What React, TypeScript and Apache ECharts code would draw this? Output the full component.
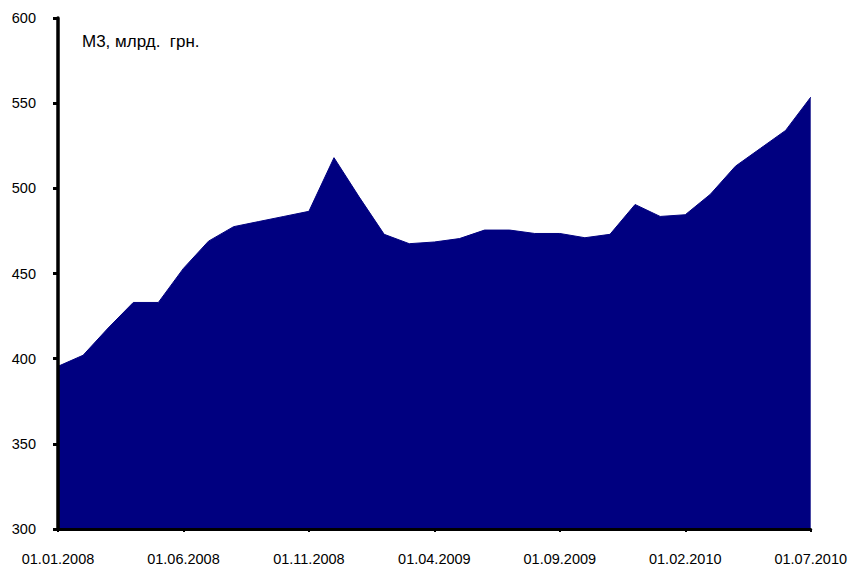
import React, { useEffect, useRef } from "react";
import * as echarts from "echarts";

const categories: string[] = [
  "01.01.2008", "01.02.2008", "01.03.2008", "01.04.2008", "01.05.2008", "01.06.2008",
  "01.07.2008", "01.08.2008", "01.09.2008", "01.10.2008", "01.11.2008", "01.12.2008",
  "01.01.2009", "01.02.2009", "01.03.2009", "01.04.2009", "01.05.2009", "01.06.2009",
  "01.07.2009", "01.08.2009", "01.09.2009", "01.10.2009", "01.11.2009", "01.12.2009",
  "01.01.2010", "01.02.2010", "01.03.2010", "01.04.2010", "01.05.2010", "01.06.2010",
  "01.07.2010",
];

const m3Values: number[] = [
  395.5, 402, 418, 433, 433, 453, 469, 477.5, 480.5, 483.5, 486.5, 518,
  495, 473, 467.5, 468.5, 470.5, 475.5, 475.5, 473.5, 473.5, 471, 473, 490.5,
  483.5, 484.5, 496.5, 513, 523.5, 534, 553.5,
];

const yMin = 300;
const yMax = 600;
const yStep = 50;
const titleText = "М3, млрд.  грн.";

const FONT = "'Liberation Sans', Arial, sans-serif";

export default function App() {
  const ref = useRef<HTMLDivElement>(null);
  useEffect(() => {
    if (!ref.current) return;
    const chart = echarts.init(ref.current, undefined, { renderer: "svg" });
    chart.setOption({
      animation: false,
      backgroundColor: "#ffffff",
      grid: { left: 58, right: 37, top: 18, bottom: 40, containLabel: false },
      graphic: [
        {
          type: "text",
          left: 82,
          top: 33,
          style: { text: titleText, font: `17px ${FONT}`, fill: "#000000" },
        },
      ],
      xAxis: {
        type: "category",
        data: categories,
        boundaryGap: false,
        z: 10,
        axisLine: { show: true, onZero: false, lineStyle: { color: "#000000", width: 3 } },
        axisTick: { show: true, interval: 4, length: 3, lineStyle: { color: "#000000", width: 2 } },
        axisLabel: {
          interval: 4,
          margin: 22,
          color: "#000000",
          fontSize: 14.5,
          fontFamily: FONT,
          showMaxLabel: true,
        },
        splitLine: { show: false },
      },
      yAxis: {
        type: "value",
        min: yMin,
        max: yMax,
        interval: yStep,
        z: 10,
        axisLine: { show: true, lineStyle: { color: "#000000", width: 3.5 } },
        axisTick: { show: true, length: 5, lineStyle: { color: "#000000", width: 3 } },
        axisLabel: {
          margin: 22,
          color: "#000000",
          fontSize: 14.5,
          fontFamily: FONT,
        },
        splitLine: { show: false },
      },
      series: [
        {
          type: "line",
          data: m3Values,
          symbol: "none",
          z: 2,
          lineStyle: { color: "#000080", width: 1 },
          areaStyle: { color: "#000080", opacity: 1 },
        },
      ],
    });
    return () => chart.dispose();
  }, []);
  return (
    <div
      ref={ref}
      style={{ position: "fixed", left: 0, top: 0, width: 850, height: 569, background: "#fff" }}
    />
  );
}
